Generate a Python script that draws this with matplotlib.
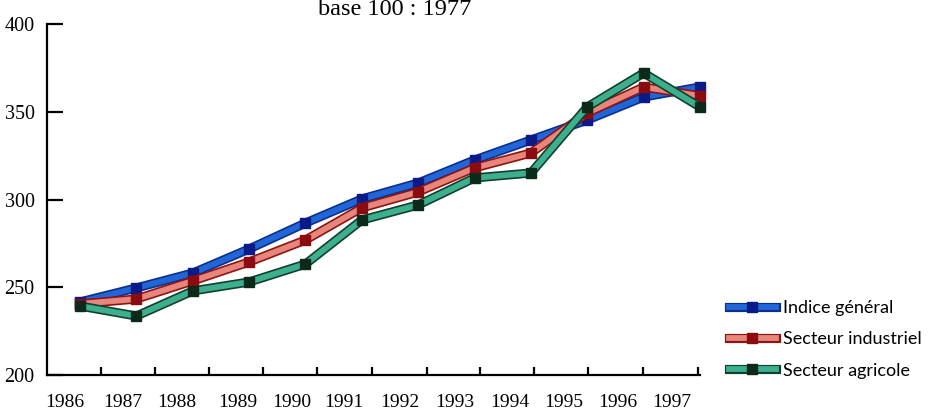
import numpy as np
import matplotlib
matplotlib.use("Agg")
import matplotlib.pyplot as plt
import matplotlib.patheffects as pe

# data (base 100 : 1977)
years = ["1986", "1987", "1988", "1989", "1990", "1991",
         "1992", "1993", "1994", "1995", "1996", "1997"]
indice_general = [241.6, 249.6, 258.1, 271.8, 286.6, 300.3,
                  309.4, 322.5, 333.9, 345.3, 358.4, 364.1]
secteur_industriel = [240.5, 243.3, 253.6, 264.4, 276.9, 295.2,
                      304.3, 318.0, 326.5, 349.3, 364.1, 359.0]
secteur_agricole = [239.3, 233.6, 247.9, 253.0, 263.2, 288.3,
                    296.9, 312.3, 315.1, 352.7, 372.1, 352.7]

series = [
    ("Indice général", indice_general, "#2166d8", "#0d2f8c", "#0a1a86"),
    ("Secteur industriel", secteur_industriel, "#e8867c", "#8c1414", "#8a0c10"),
    ("Secteur agricole", secteur_agricole, "#3cb08e", "#133f2d", "#0b2a1a"),
]

serif = ["Liberation Serif", "DejaVu Serif"]

fig = plt.figure(figsize=(9.4, 4.12), dpi=100)
ax = fig.add_axes([47 / 940, 37 / 412, 653 / 940, 351 / 412])

x = np.arange(len(years))
handles = []
labels = []
for label, values, fill, edge, mark in series:
    line, = ax.plot(x, values, color=fill, lw=4.2, solid_joinstyle="miter",
                    path_effects=[pe.Stroke(linewidth=6.6, foreground=edge), pe.Normal()])
    dots, = ax.plot(x, values, ls="none", marker="s", markersize=6.5,
                    markerfacecolor=mark, markeredgecolor=mark, clip_on=False)
    handles.append((line, dots))
    labels.append(label)

ax.set_xlim(-0.585, 11.0)
ax.set_ylim(200, 400)

for side in ["top", "right"]:
    ax.spines[side].set_visible(False)
for side in ["left", "bottom"]:
    ax.spines[side].set_linewidth(1.6)

# y axis
ax.set_yticks([200, 250, 300, 350, 400])
ax.tick_params(axis="y", direction="in", length=11.5, width=1.6, pad=9,
               labelsize=14.5)

# x axis: tick marks and labels sit at different places in the original
tick_pos = [0.37, 1.33, 2.29, 3.25, 4.21, 5.18, 6.15, 7.10, 8.06, 9.02, 9.98, 10.97]
label_pos = [-0.27, 0.76, 1.72, 2.80, 3.76, 4.68, 5.68, 6.65, 7.63, 8.59, 9.55, 10.5]
ax.set_xticks(label_pos)
ax.set_xticklabels(years)
ax.set_xticks(tick_pos, minor=True)
ax.tick_params(axis="x", which="major", length=0, pad=14, labelsize=14)
ax.tick_params(axis="x", which="minor", direction="in", length=6, width=1.6)

for lbl in ax.get_xticklabels() + ax.get_yticklabels():
    lbl.set_family(serif)

fig.text(395 / 940, 1 - 15 / 412, "base 100 : 1977", ha="center",
         va="baseline", fontsize=17.5, family=serif)

fig.legend(handles, labels, loc="upper left",
           bbox_to_anchor=(729 / 940, 1 - 300 / 412),
           frameon=False, borderpad=0, borderaxespad=0,
           handlelength=2.6, handletextpad=0.4, labelspacing=0.85,
           prop={"family": ["Lato", "DejaVu Sans"], "size": 13})

fig.savefig("out.png", dpi=100)
